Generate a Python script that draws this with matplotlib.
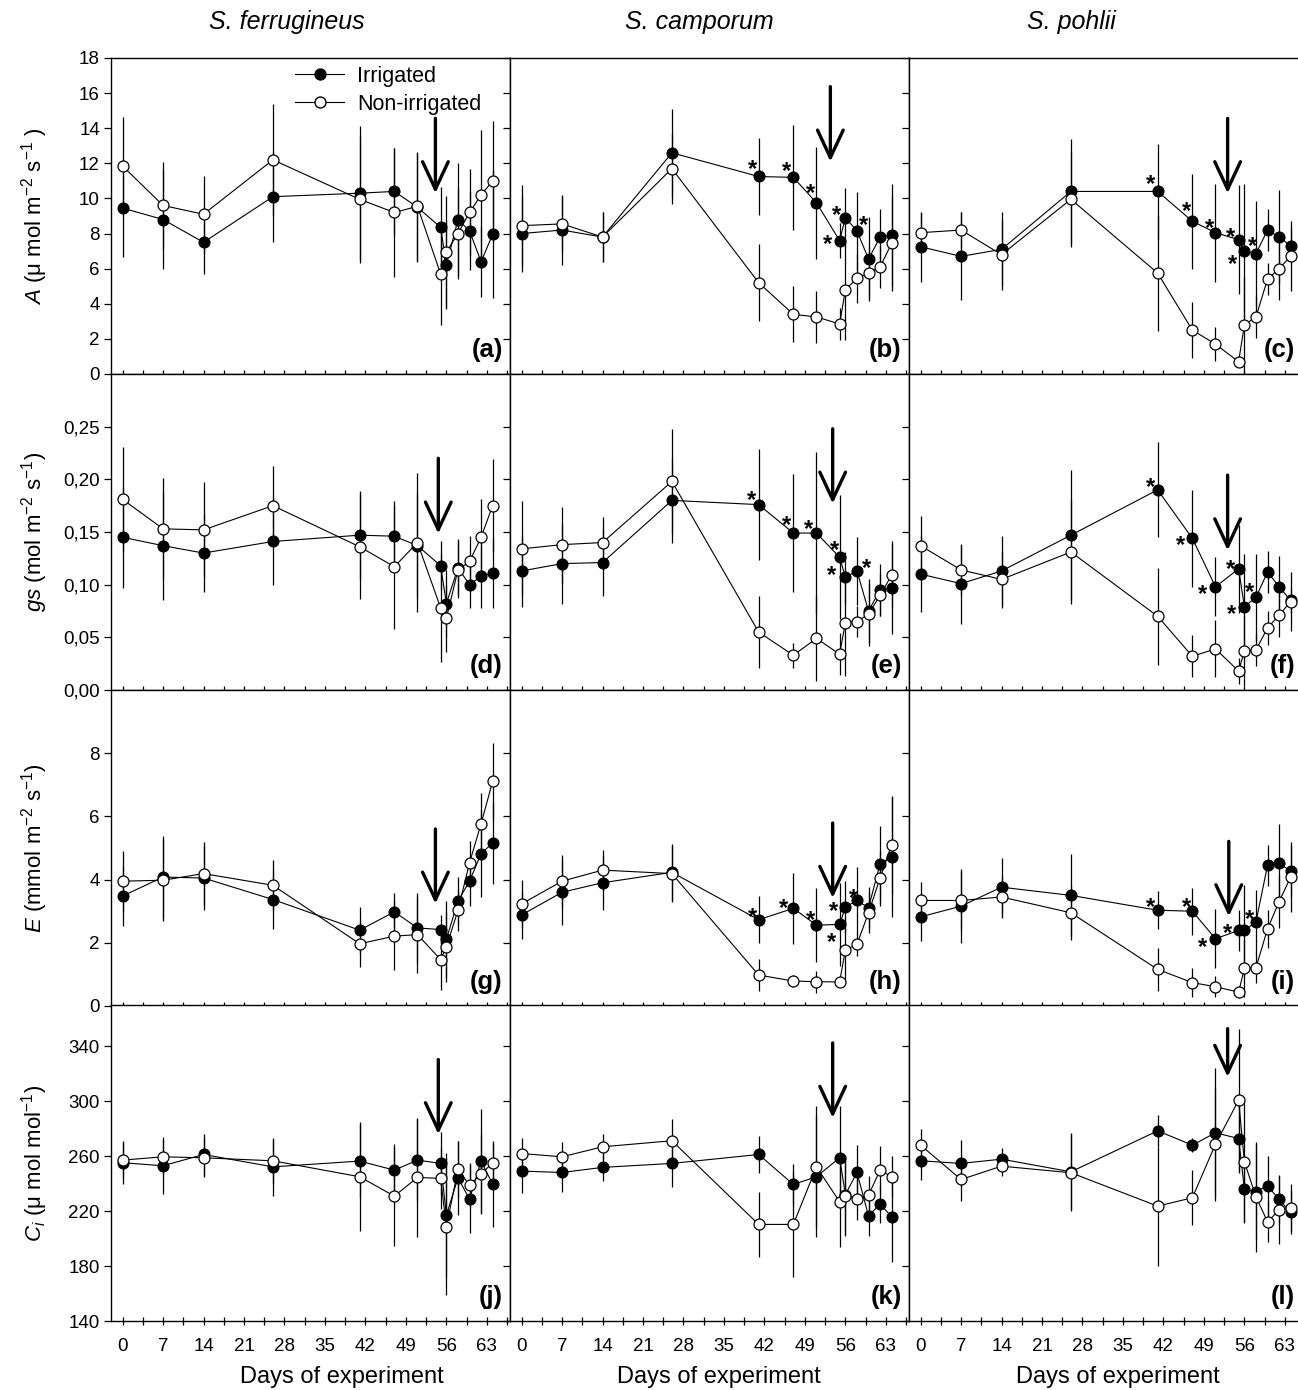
import matplotlib
matplotlib.use('Agg')
import matplotlib.pyplot as plt
from matplotlib.ticker import MultipleLocator, FixedLocator, FuncFormatter
from matplotlib.lines import Line2D

plt.rcParams['font.family'] = ['Liberation Sans', 'DejaVu Sans']
plt.rcParams['mathtext.fontset'] = 'custom'
plt.rcParams['mathtext.rm'] = 'Liberation Sans'
plt.rcParams['mathtext.it'] = 'Liberation Sans:italic'
plt.rcParams['mathtext.bf'] = 'Liberation Sans:bold'

# ---------------- data ----------------
days = [0, 7, 14, 26, 41, 47, 51, 55, 56, 58, 60, 62, 64]
species = ["S. ferrugineus", "S. camporum", "S. pohlii"]
panel_letters = ["a", "b", "c", "d", "e", "f", "g", "h", "i", "j", "k", "l"]

A_fer_irr = [9.45, 8.8, 7.5, 10.1, 10.3, 10.4, 9.5, 8.35, 6.2, 8.8, 8.15, 6.4, 7.95]
A_fer_non = [11.85, 9.6, 9.1, 12.2, 9.95, 9.2, 9.55, 5.7, 6.95, 8.0, 9.2, 10.2, 11.0]
A_fer_irr_se = [2.8, 2.8, 1.8, 2.6, 3.8, 2.5, 3.1, 2.3, 2.5, 3.2, 2.2, 2.0, 3.6]
A_fer_non_se = [2.8, 2.5, 2.2, 3.2, 3.6, 3.7, 3.1, 2.9, 3.2, 2.6, 2.5, 3.7, 3.4]

A_cam_irr = [8.0, 8.2, 7.8, 12.6, 11.25, 11.2, 9.75, 7.6, 8.9, 8.15, 6.55, 7.8, 7.9]
A_cam_non = [8.45, 8.55, 7.8, 11.7, 5.2, 3.4, 3.25, 2.85, 4.8, 5.45, 5.75, 6.1, 7.45]
A_cam_irr_se = [2.2, 2.0, 1.4, 2.5, 2.2, 3.0, 3.2, 1.0, 1.7, 2.2, 2.4, 1.6, 2.9]
A_cam_non_se = [2.3, 1.6, 1.4, 2.0, 2.2, 1.6, 1.5, 0.9, 2.85, 1.4, 1.5, 1.2, 2.7]

A_poh_irr = [7.25, 6.7, 7.1, 10.4, 10.4, 8.7, 8.05, 7.65, 7.0, 6.85, 8.2, 7.8, 7.3]
A_poh_non = [8.05, 8.2, 6.8, 9.95, 5.75, 2.5, 1.7, 0.7, 2.8, 3.25, 5.4, 6.0, 6.7]
A_poh_irr_se = [2.0, 2.5, 2.1, 3.0, 2.7, 2.7, 2.8, 3.1, 3.8, 3.0, 1.2, 2.7, 1.0]
A_poh_non_se = [1.1, 1.0, 2.0, 2.7, 3.3, 1.6, 0.95, 0.3, 2.75, 1.2, 0.9, 1.8, 2.0]

gs_fer_irr = [0.145, 0.137, 0.130, 0.141, 0.147, 0.146, 0.137, 0.118, 0.082, 0.116, 0.100, 0.108, 0.111]
gs_fer_non = [0.181, 0.153, 0.152, 0.175, 0.136, 0.117, 0.140, 0.078, 0.068, 0.114, 0.122, 0.145, 0.175]
gs_fer_irr_se = [0.048, 0.052, 0.037, 0.041, 0.042, 0.033, 0.05, 0.023, 0.032, 0.027, 0.022, 0.03, 0.033]
gs_fer_non_se = [0.05, 0.048, 0.045, 0.038, 0.05, 0.059, 0.066, 0.051, 0.032, 0.027, 0.024, 0.036, 0.044]

gs_cam_irr = [0.113, 0.120, 0.121, 0.180, 0.176, 0.149, 0.149, 0.126, 0.107, 0.113, 0.075, 0.095, 0.097]
gs_cam_non = [0.134, 0.138, 0.140, 0.198, 0.055, 0.033, 0.049, 0.034, 0.064, 0.065, 0.072, 0.090, 0.109]
gs_cam_irr_se = [0.034, 0.038, 0.032, 0.04, 0.053, 0.056, 0.077, 0.059, 0.024, 0.032, 0.03, 0.025, 0.044]
gs_cam_non_se = [0.045, 0.036, 0.024, 0.05, 0.034, 0.012, 0.04, 0.02, 0.051, 0.015, 0.03, 0.02, 0.03]

gs_poh_irr = [0.110, 0.101, 0.113, 0.147, 0.190, 0.144, 0.098, 0.115, 0.079, 0.088, 0.112, 0.098, 0.085]
gs_poh_non = [0.137, 0.114, 0.105, 0.131, 0.070, 0.032, 0.039, 0.018, 0.037, 0.038, 0.059, 0.071, 0.084]
gs_poh_irr_se = [0.036, 0.038, 0.033, 0.062, 0.045, 0.046, 0.028, 0.042, 0.05, 0.041, 0.02, 0.029, 0.012]
gs_poh_non_se = [0.028, 0.024, 0.027, 0.049, 0.046, 0.02, 0.027, 0.012, 0.033, 0.015, 0.016, 0.021, 0.028]

E_fer_irr = [3.48, 4.08, 4.05, 3.37, 2.40, 2.98, 2.47, 2.42, 2.11, 3.32, 3.95, 4.82, 5.16]
E_fer_non = [3.95, 3.98, 4.19, 3.82, 1.97, 2.21, 2.26, 1.47, 1.87, 3.03, 4.53, 5.77, 7.11]
E_fer_irr_se = [0.95, 1.3, 1.0, 0.93, 0.73, 0.6, 1.1, 0.47, 1.2, 0.76, 0.79, 1.37, 1.3]
E_fer_non_se = [0.97, 1.3, 1.0, 0.81, 0.73, 1.08, 1.2, 0.97, 1.1, 0.67, 0.7, 0.97, 1.21]

E_cam_irr = [2.88, 3.60, 3.90, 4.23, 2.73, 3.09, 2.56, 2.58, 3.13, 3.34, 3.11, 4.50, 4.71]
E_cam_non = [3.23, 3.95, 4.30, 4.19, 0.98, 0.79, 0.77, 0.76, 1.78, 1.95, 2.95, 4.05, 5.11]
E_cam_irr_se = [0.77, 1.05, 0.86, 0.9, 0.74, 1.13, 1.18, 1.3, 0.82, 1.05, 0.65, 1.2, 1.9]
E_cam_non_se = [0.77, 0.84, 0.65, 0.9, 0.5, 0.2, 0.35, 0.1, 1.05, 0.37, 0.65, 0.87, 1.55]

E_poh_irr = [2.82, 3.16, 3.76, 3.50, 3.03, 3.00, 2.13, 2.39, 2.39, 2.66, 4.45, 4.51, 4.27]
E_poh_non = [3.34, 3.34, 3.45, 2.95, 1.16, 0.74, 0.61, 0.44, 1.19, 1.21, 2.44, 3.30, 4.08]
E_poh_irr_se = [0.77, 1.16, 0.93, 1.3, 0.6, 0.74, 0.93, 0.66, 1.45, 1.0, 0.65, 1.25, 0.82]
E_poh_non_se = [0.58, 0.93, 0.66, 0.86, 0.68, 0.45, 0.33, 0.2, 0.9, 0.47, 0.6, 0.82, 1.1]

Ci_fer_irr = [255.2, 253.0, 261.2, 252.2, 256.4, 249.8, 257.1, 254.7, 217.1, 244.2, 228.7, 256.4, 239.6]
Ci_fer_non = [257.1, 259.5, 258.8, 256.6, 245.0, 230.9, 244.5, 243.8, 208.6, 250.3, 238.9, 246.9, 255.2]
Ci_fer_irr_se = [15.8, 20.6, 14.8, 21, 26.7, 18.7, 29.6, 23, 45, 27, 24.5, 37.6, 31.5]
Ci_fer_non_se = [13.3, 13.3, 14.3, 15.8, 39.5, 36, 43, 22, 50, 21, 16, 29, 14.5]

Ci_cam_irr = [249.1, 248.1, 251.8, 254.7, 261.2, 239.4, 245.0, 258.8, 232.0, 248.1, 216.6, 225.1, 215.9]
Ci_cam_non = [261.9, 259.5, 266.8, 271.2, 210.3, 210.3, 252.2, 226.8, 230.9, 228.7, 231.6, 249.8, 245.0]
Ci_cam_irr_se = [16.2, 14, 10, 17, 13.3, 14.8, 44, 37.6, 29, 20, 14.5, 14, 33]
Ci_cam_non_se = [11.4, 11, 9, 15.5, 23.5, 38, 44, 32.7, 29, 15, 14, 17.5, 15]

Ci_poh_irr = [256.6, 254.7, 257.8, 248.6, 278.4, 268.0, 277.0, 272.8, 236.0, 234.1, 238.4, 228.5, 219.0]
Ci_poh_non = [268.0, 243.0, 252.7, 247.9, 223.6, 229.7, 268.7, 300.7, 255.9, 230.4, 212.2, 220.7, 222.4]
Ci_poh_irr_se = [14, 17, 8, 28, 11.4, 5, 47, 25, 25, 34.7, 21.6, 18, 16]
Ci_poh_non_se = [11.6, 16, 7, 28, 43.4, 20, 41, 52, 43.6, 40, 15, 24.7, 17]

# arrows marking re-watering: (day, top value, tip value) per panel
arrow_a = (54.1, 14.56, 10.3)
arrow_b = (53.4, 16.37, 12.1)
arrow_c = (53.1, 14.56, 10.3)
arrow_d = (54.6, 0.220, 0.1485)
arrow_e = (53.8, 0.248, 0.177)
arrow_f = (53.1, 0.204, 0.1326)
arrow_g = (54.1, 5.6, 3.24)
arrow_h = (53.8, 5.79, 3.42)
arrow_i = (53.3, 5.21, 2.84)
arrow_j = (54.6, 330.3, 276.0)
arrow_k = (53.8, 342.4, 287.9)
arrow_l = (53.1, 352.8, 317.7)

# significance stars (day of irrigated point, x/y pixel offsets of the star)
stars_b = [(41, -6, 14), (47, -7, 13), (51, -6, 17), (55, -12, 3), (56, -9, 10), (58, 7, 13)]
stars_c = [(41, -7, 14), (47, -6, 17), (51, -6, 11), (55, -8, 9), (56, -12, -6), (58, -3, 15)]
stars_e = [(41, -7, 11), (47, -7, 15), (51, -8, 11), (55, -5, 14), (56, -14, 9), (58, 10, 10)]
stars_f = [(41, -7, 10), (47, -12, 0), (51, -13, 0), (55, -8, 7), (56, -13, 0), (58, -6, 12)]
stars_h = [(41, -6, 10), (47, -10, 7), (51, -6, 12), (55, -8, -11), (56, -12, 3), (58, -3, 9)]
stars_i = [(41, -7, 10), (47, -6, 11), (51, -13, -2), (55, -11, 4), (58, -6, 10)]

# ---------------- assemble ----------------
rows = [
    [(A_fer_irr, A_fer_irr_se, A_fer_non, A_fer_non_se),
     (A_cam_irr, A_cam_irr_se, A_cam_non, A_cam_non_se),
     (A_poh_irr, A_poh_irr_se, A_poh_non, A_poh_non_se)],
    [(gs_fer_irr, gs_fer_irr_se, gs_fer_non, gs_fer_non_se),
     (gs_cam_irr, gs_cam_irr_se, gs_cam_non, gs_cam_non_se),
     (gs_poh_irr, gs_poh_irr_se, gs_poh_non, gs_poh_non_se)],
    [(E_fer_irr, E_fer_irr_se, E_fer_non, E_fer_non_se),
     (E_cam_irr, E_cam_irr_se, E_cam_non, E_cam_non_se),
     (E_poh_irr, E_poh_irr_se, E_poh_non, E_poh_non_se)],
    [(Ci_fer_irr, Ci_fer_irr_se, Ci_fer_non, Ci_fer_non_se),
     (Ci_cam_irr, Ci_cam_irr_se, Ci_cam_non, Ci_cam_non_se),
     (Ci_poh_irr, Ci_poh_irr_se, Ci_poh_non, Ci_poh_non_se)],
]
arrows = [arrow_a, arrow_b, arrow_c, arrow_d, arrow_e, arrow_f,
          arrow_g, arrow_h, arrow_i, arrow_j, arrow_k, arrow_l]
stars = {1: stars_b, 2: stars_c, 4: stars_e, 5: stars_f, 7: stars_h, 8: stars_i}

ylims = [(0, 18), (0, 0.30), (0, 10), (140, 370)]
yticks = [list(range(0, 19, 2)), [0, 0.05, 0.10, 0.15, 0.20, 0.25], [0, 2, 4, 6, 8],
          [140, 180, 220, 260, 300, 340]]
ylabels = [r'$A$ (μ mol m$^{-2}$ s$^{-1}$ )',
           r'$gs$ (mol m$^{-2}$ s$^{-1}$)',
           r'$E$ (mmol m$^{-2}$ s$^{-1}$)',
           r'$C_i$ (μ mol mol$^{-1}$)']

# ---------------- figure ----------------
W, H = 1298, 1390
fig = plt.figure(figsize=(W / 100, H / 100), dpi=100)
col_left = [111, 510, 909]
col_w = 399
row_top = [58, 374, 690, 1005]
row_h = 316

MS = 7.9
TICK_FS = 13.5

for r in range(4):
    for c in range(3):
        idx = r * 3 + c
        ax = fig.add_axes([col_left[c] / W, 1 - (row_top[r] + row_h) / H, col_w / W, row_h / H])
        irr, irr_se, non, non_se = rows[r][c]
        ax.errorbar(days, irr, yerr=irr_se, fmt='none', ecolor='black', elinewidth=0.9,
                    capsize=0, zorder=2)
        ax.errorbar(days, non, yerr=non_se, fmt='none', ecolor='black', elinewidth=0.9,
                    capsize=0, zorder=2)
        ax.plot(days, irr, '-', color='black', lw=0.8, marker='o', ms=MS,
                mfc='black', mec='black', mew=0.8, zorder=3)
        ax.plot(days, non, '-', color='black', lw=0.8, marker='o', ms=MS,
                mfc='white', mec='black', mew=0.9, zorder=4)

        ax.set_xlim(-2, 67)
        ax.set_ylim(*ylims[r])
        ax.xaxis.set_major_locator(MultipleLocator(7))
        ax.xaxis.set_minor_locator(MultipleLocator(3.5))
        ax.yaxis.set_major_locator(FixedLocator(yticks[r]))
        ax.tick_params(axis='x', which='both', direction='inout', length=6, width=0.9,
                       top=False, bottom=True, labelsize=TICK_FS, pad=9)
        ax.tick_params(axis='y', which='both', direction='out', length=5, width=0.9,
                       left=True, right=False, labelsize=TICK_FS, pad=3)
        for s in ax.spines.values():
            s.set_linewidth(1.0)
        if r < 3:
            ax.tick_params(axis='x', labelbottom=False)
        if c > 0:
            ax.tick_params(axis='y', labelleft=False)
        else:
            if r == 1:
                ax.yaxis.set_major_formatter(FuncFormatter(lambda v, p: ('%.2f' % v).replace('.', ',')))
            ax.set_ylabel(ylabels[r], fontsize=16)
            ax.yaxis.set_label_coords(-0.152, 0.5)

        # arrow
        ad, atop, atip = arrows[idx]
        ax.annotate('', xy=(ad, atip), xytext=(ad, atop),
                    arrowprops=dict(arrowstyle='->,head_length=0.9,head_width=0.42',
                                    lw=2.4, color='black', mutation_scale=22,
                                    shrinkA=0, shrinkB=0), zorder=6)

        # stars
        if idx in stars:
            fs = 17
            for (sd, dx, dy) in stars[idx]:
                yv = irr[days.index(sd)]
                ax.annotate('*', xy=(sd, yv), xytext=(dx, dy - 0.585 * fs * 100 / 72),
                            textcoords='offset pixels', ha='center', va='baseline',
                            fontsize=fs, fontweight='bold', zorder=7)

        lx = 0.982 if c < 2 else 0.968
        ax.text(lx, 0.055, '(%s)' % panel_letters[idx], transform=ax.transAxes,
                ha='right', va='baseline', fontsize=18.5, fontweight='bold', zorder=8)

        if idx == 0:
            h1 = Line2D([], [], color='black', lw=0.8, marker='o', ms=MS, mfc='black', mec='black')
            h2 = Line2D([], [], color='black', lw=0.8, marker='o', ms=MS, mfc='white', mec='black')
            ax.legend([h1, h2], ['Irrigated', 'Non-irrigated'], loc='upper left',
                      bbox_to_anchor=(0.461, 0.975), frameon=False, fontsize=15.5,
                      borderaxespad=0, borderpad=0, handlelength=2.3,
                      handletextpad=0.6, labelspacing=0.33)

for c in range(3):
    fig.text([287, 699, 1071][c] / W, 1 - 22 / H, species[c], style='italic',
             ha='center', va='center', fontsize=18)
    fig.text([342, 719, 1118][c] / W, 1 - 1377 / H, 'Days of experiment',
             ha='center', va='center', fontsize=17)

fig.savefig('out.png', dpi=100)
